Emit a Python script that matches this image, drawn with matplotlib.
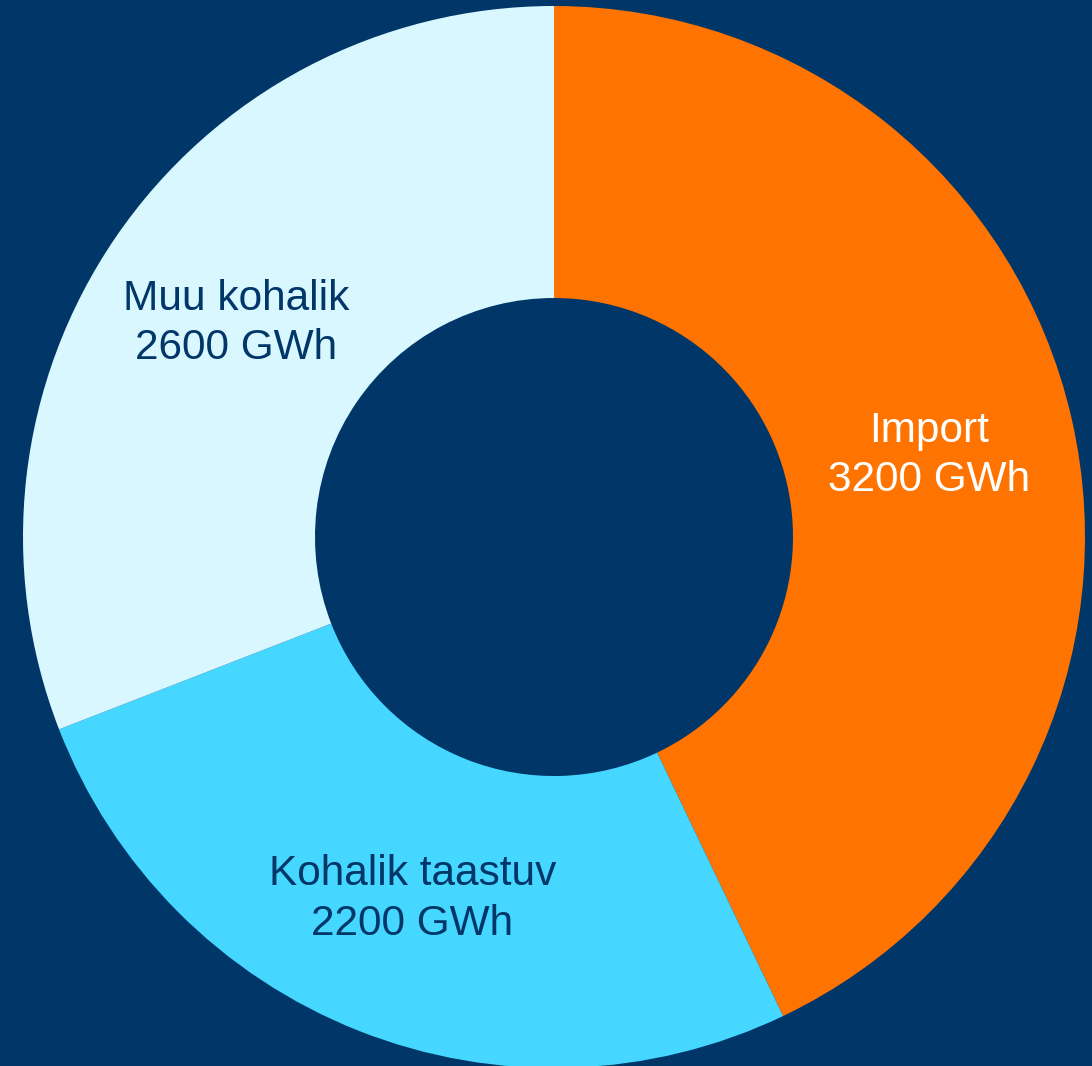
import numpy as np
from matplotlib import pyplot as plt

# slice shares (the labels carry the stated GWh)
names = ['Import', 'Kohalik taastuv', 'Muu kohalik']
shares = [42.9, 26.2, 30.9]
gwh = [3200, 2200, 2600]
colors = ['#ff7300', '#45d7ff', '#d9f7ff']
text_colors = ['white', '#003668', '#003668']

bg = '#003668'
W, H = 1092, 1066
cx, cy = 554, 537
r_out, r_in = 531, 239

fig = plt.figure(figsize=(W / 100, H / 100), dpi=100, facecolor=bg)
ax = fig.add_axes([0, 0, 1, 1])
ax.set_facecolor(bg)

labels = [f'{n}\n{v} GWh' for n, v in zip(names, gwh)]
wedges, texts = ax.pie(shares, colors=colors, startangle=90, counterclock=False,
                       radius=r_out, labels=labels,
                       labeldistance=(r_out + r_in) / 2 / r_out,
                       wedgeprops=dict(width=r_out - r_in, linewidth=0),
                       textprops=dict(fontsize=30.5, family=['Liberation Sans', 'DejaVu Sans'],
                                      ha='center', va='center'))
for t, c in zip(texts, text_colors):
    t.set_color(c)
    t.set_horizontalalignment('center')
    t.set_verticalalignment('center')
    t.set_linespacing(1.3)
    x, y = t.get_position()
    t.set_position((x, y - 4))  # nudge down a little

ax.set_xlim(-cx, W - cx)
ax.set_ylim(-(H - cy), cy)
ax.set_aspect('equal')
ax.axis('off')

fig.savefig('out.png', dpi=100, facecolor=bg)
